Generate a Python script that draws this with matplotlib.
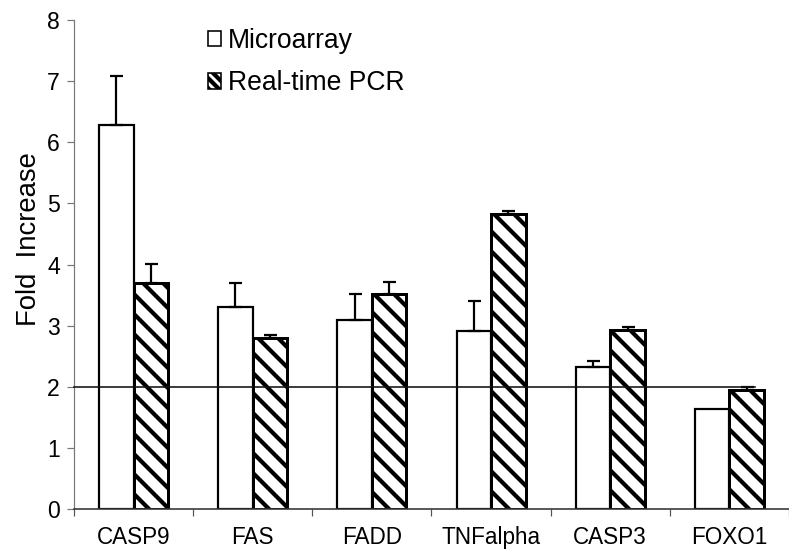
import matplotlib
matplotlib.use("Agg")
import matplotlib.pyplot as plt
from matplotlib.patches import Patch
import numpy as np

# ---- data ----
categories = ["CASP9", "FAS", "FADD", "TNFalpha", "CASP3", "FOXO1"]
microarray = [6.28, 3.31, 3.10, 2.91, 2.32, 1.64]
microarray_err = [0.81, 0.39, 0.42, 0.49, 0.10, 0.0]
pcr = [3.70, 2.80, 3.52, 4.83, 2.93, 1.95]
pcr_err = [0.31, 0.05, 0.19, 0.05, 0.05, 0.05]
threshold = 2
yticks = [0, 1, 2, 3, 4, 5, 6, 7, 8]

DPI = 60
W, H = 789, 551


def P(px):
    """pixels -> points at this dpi"""
    return px * 72.0 / DPI


plt.rcParams["font.family"] = ["Liberation Sans", "DejaVu Sans"]
plt.rcParams["hatch.linewidth"] = P(4.2)
plt.rcParams["hatch.color"] = "black"

fig = plt.figure(figsize=(W / DPI, H / DPI), dpi=DPI)
left_px, right_px, bottom_px, top_px = 74, 789, 509, 20
ax = fig.add_axes([left_px / W, (H - bottom_px) / H,
                   (right_px - left_px) / W, (bottom_px - top_px) / H])

cat_w = 119.7
x = np.arange(len(categories))
bw = 0.29

ax.bar(x - bw, microarray, width=bw, align="edge", facecolor="white",
       edgecolor="black", linewidth=P(2.2), zorder=2)
ax.bar(x, pcr, width=bw, align="edge", facecolor="white", hatch="\\",
       edgecolor="black", linewidth=P(3.0), zorder=2)


def draw_err(xpos, vals, errs):
    xpos = np.asarray(xpos)
    vals = np.asarray(vals)
    errs = np.asarray(errs)
    m = errs > 0
    ax.errorbar(xpos[m], vals[m], yerr=[np.zeros(m.sum()), errs[m]],
                fmt="none", ecolor="black", elinewidth=P(2.2),
                capsize=P(6.5), capthick=P(2.2), zorder=3)


draw_err(x - bw / 2, microarray, microarray_err)
draw_err(x + bw / 2, pcr, pcr_err)

x_left = -0.5
x_right = -0.5 + (right_px - left_px) / cat_w
ax.set_xlim(x_left, x_right)
ax.set_ylim(0, 8)

# reference line at y = 2
ax.plot([x_left, x[-1] + bw * 0.75], [threshold, threshold], color="#111111",
        linewidth=P(1.6), zorder=4, clip_on=False)

ax.spines["top"].set_visible(False)
ax.spines["right"].set_visible(False)
ax.spines["left"].set_color("#777777")
ax.spines["left"].set_linewidth(P(1.2))
ax.spines["bottom"].set_color("#333333")
ax.spines["bottom"].set_linewidth(P(1.6))

ax.set_yticks(yticks)
ax.set_yticklabels([str(v) for v in yticks])
ax.tick_params(axis="y", direction="out", length=P(7), width=P(1.2),
               color="#777777", pad=P(7), labelsize=P(23))

ax.set_xticks(x)
ax.set_xticklabels(categories)
ax.tick_params(axis="x", which="major", length=0, pad=P(17), labelsize=P(22.5))
ax.set_xticks(np.arange(len(categories) + 1) - 0.5, minor=True)
ax.tick_params(axis="x", which="minor", direction="out", length=P(7),
               width=P(1.2), color="#555555")

ax.set_ylabel("Fold  Increase", fontsize=P(27.5))
ax.yaxis.set_label_coords((42 - left_px) / (right_px - left_px),
                          (bottom_px - 239) / (bottom_px - top_px))

handles = [Patch(facecolor="white", edgecolor="black", linewidth=P(1.6)),
           Patch(facecolor="white", edgecolor="black", hatch="\\\\",
                 linewidth=P(1.6))]
fig.legend(handles, ["Microarray", "Real-time PCR"], loc="upper left",
           bbox_to_anchor=(208 / W, 1 - 28 / H), frameon=False,
           fontsize=P(26.5), handlelength=0.5, handleheight=0.5,
           handletextpad=0.25, labelspacing=0.62, borderpad=0,
           borderaxespad=0)

fig.savefig("out.png", dpi=DPI)
